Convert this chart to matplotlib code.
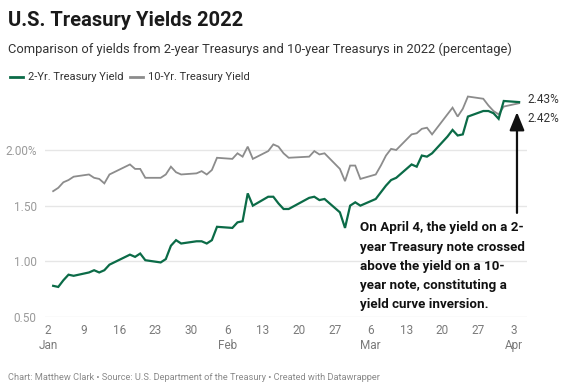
import matplotlib
matplotlib.use("Agg")
import matplotlib.pyplot as plt
import matplotlib.dates as mdates
import numpy as np
import pandas as pd

dates = ["2022-01-03","2022-01-04","2022-01-05","2022-01-06","2022-01-07",
         "2022-01-10","2022-01-11","2022-01-12","2022-01-13","2022-01-14",
         "2022-01-18","2022-01-19","2022-01-20","2022-01-21",
         "2022-01-24","2022-01-25","2022-01-26","2022-01-27","2022-01-28",
         "2022-01-31","2022-02-01","2022-02-02","2022-02-03","2022-02-04",
         "2022-02-07","2022-02-08","2022-02-09","2022-02-10","2022-02-11",
         "2022-02-14","2022-02-15","2022-02-16","2022-02-17","2022-02-18",
         "2022-02-22","2022-02-23","2022-02-24","2022-02-25",
         "2022-02-28","2022-03-01","2022-03-02","2022-03-03","2022-03-04",
         "2022-03-07","2022-03-08","2022-03-09","2022-03-10","2022-03-11",
         "2022-03-14","2022-03-15","2022-03-16","2022-03-17","2022-03-18",
         "2022-03-21","2022-03-22","2022-03-23","2022-03-24","2022-03-25",
         "2022-03-28","2022-03-29","2022-03-30","2022-03-31","2022-04-01",
         "2022-04-04"]
yield_2yr = [0.78,0.77,0.83,0.88,0.87,
             0.90,0.92,0.90,0.92,0.97,
             1.06,1.04,1.07,1.01,
             0.99,1.02,1.14,1.19,1.16,
             1.18,1.18,1.16,1.19,1.31,
             1.30,1.35,1.36,1.61,1.50,
             1.58,1.58,1.52,1.47,1.47,
             1.57,1.58,1.55,1.56,
             1.44,1.30,1.50,1.53,1.50,
             1.56,1.62,1.68,1.73,1.75,
             1.87,1.85,1.95,1.94,1.97,
             2.12,2.18,2.13,2.14,2.30,
             2.35,2.35,2.33,2.28,2.44,
             2.43]
yield_10yr = [1.63,1.66,1.71,1.73,1.76,
              1.78,1.75,1.74,1.70,1.78,
              1.87,1.83,1.83,1.75,
              1.75,1.78,1.85,1.80,1.78,
              1.79,1.81,1.78,1.82,1.93,
              1.92,1.97,1.94,2.03,1.92,
              1.99,2.05,2.03,1.97,1.93,
              1.94,1.99,1.96,1.97,
              1.83,1.72,1.86,1.86,1.74,
              1.78,1.86,1.95,2.01,2.00,
              2.14,2.15,2.19,2.20,2.14,
              2.32,2.38,2.30,2.37,2.48,
              2.46,2.40,2.35,2.32,2.39,
              2.42]
y_ticks = [0.5, 1.0, 1.5, 2.0]
y_tick_labels = ["0.50", "1.00", "1.50", "2.00%"]
x_ticks = ["2022-01-02","2022-01-09","2022-01-16","2022-01-23","2022-01-30",
           "2022-02-06","2022-02-13","2022-02-20","2022-02-27",
           "2022-03-06","2022-03-13","2022-03-20","2022-03-27","2022-04-03"]
x_tick_labels = ["2\nJan","9","16","23","30","6\nFeb","13","20","27",
                 "6\nMar","13","20","27","3\nApr"]

plt.rcParams['font.family'] = ['Roboto', 'DejaVu Sans']

W, H = 575, 390
fig = plt.figure(figsize=(W/100, H/100), dpi=100)
fig.patch.set_facecolor("white")

def fx(px): return px / W
def fy(py): return 1 - py / H

GREEN = "#0b6b47"
GRAY = "#8c8c8c"

ax_left, ax_right, ax_bottom_px, ax_top_px = 45, 527, 317, 94.3
ax = fig.add_axes([fx(ax_left), fy(ax_bottom_px), fx(ax_right - ax_left),
                   (ax_bottom_px - ax_top_px) / H])

d = pd.to_datetime(dates)
ax.plot(d, yield_10yr, color=GRAY, lw=1.3, solid_joinstyle="miter", zorder=3)
ax.plot(d, yield_2yr, color=GREEN, lw=1.6, solid_joinstyle="miter", zorder=4)

x0 = mdates.date2num(pd.Timestamp("2022-01-02")) - 0.59
x1 = mdates.date2num(pd.Timestamp("2022-04-03")) + 2.54
ax.set_xlim(x0, x1)
ax.set_ylim(0.5, 2.5)

for s in ax.spines.values():
    s.set_visible(False)
ax.set_yticks(y_ticks)
ax.set_yticklabels(y_tick_labels)
ax.yaxis.grid(True, color="#e6e6e6", lw=1)
ax.set_axisbelow(True)
ax.tick_params(axis="y", length=0, pad=6, labelsize=8.5, labelcolor="#9a9a9a")
ax.set_xticks(pd.to_datetime(x_ticks))
ax.set_xticklabels(x_tick_labels, linespacing=1.25)
ax.tick_params(axis="x", length=0, pad=5, labelsize=8.5, labelcolor="#7a7a7a")
for lbl in ax.get_xticklabels():
    lbl.set_verticalalignment("top")

# end labels
ax.annotate(f"{yield_2yr[-1]:.2f}%", xy=(d[-1], yield_2yr[-1]), xytext=(6, 2),
            textcoords="offset points", va="center", ha="left",
            fontsize=8.5, color="#333333")
ax.annotate(f"{yield_10yr[-1]:.2f}%", xy=(d[-1], yield_10yr[-1]), xytext=(6, -11),
            textcoords="offset points", va="center", ha="left",
            fontsize=8.5, color="#333333")

# arrow
ax.annotate("", xy=(d[-1] - pd.Timedelta(hours=10), 2.34),
            xytext=(d[-1] - pd.Timedelta(hours=10), 1.435),
            arrowprops=dict(arrowstyle="-|>,head_length=1.1,head_width=0.45",
                            color="#111111", lw=1.6, shrinkA=0, shrinkB=0))

# annotation text
ann = ["On April 4, the yield on a 2-",
       "year Treasury note crossed",
       "above the yield on a 10-",
       "year note, constituting a",
       "yield curve inversion."]
for i, line in enumerate(ann):
    fig.text(fx(360), fy(228 + i * 19.2), line, fontsize=9.6, fontweight="bold",
             color="#111111", va="center", ha="left")

# title, subtitle
fig.text(fx(8), fy(20), "U.S. Treasury Yields 2022", fontsize=14.5,
         fontweight="bold", color="#1a1a1a", va="center", ha="left")
fig.text(fx(8), fy(49), "Comparison of yields from 2-year Treasurys and 10-year Treasurys in 2022 (percentage)",
         fontsize=9.3, color="#333333", va="center", ha="left")

# legend
ly = fy(77)
fig.add_artist(plt.Line2D([fx(10), fx(23)], [ly, ly], color=GREEN, lw=2,
                          transform=fig.transFigure))
fig.text(fx(28), ly, "2-Yr. Treasury Yield", fontsize=8.0, color="#333333",
         va="center", ha="left")
fig.add_artist(plt.Line2D([fx(130), fx(143)], [ly, ly], color=GRAY, lw=2,
                          transform=fig.transFigure))
fig.text(fx(148), ly, "10-Yr. Treasury Yield", fontsize=8.0, color="#333333",
         va="center", ha="left")

# footer
fig.text(fx(8), fy(377), "Chart: Matthew Clark \u2022 Source: U.S. Department of the Treasury \u2022 Created with Datawrapper",
         fontsize=6.7, color="#8a8a8a", va="center", ha="left")

fig.savefig("out.png", dpi=100, facecolor="white")
